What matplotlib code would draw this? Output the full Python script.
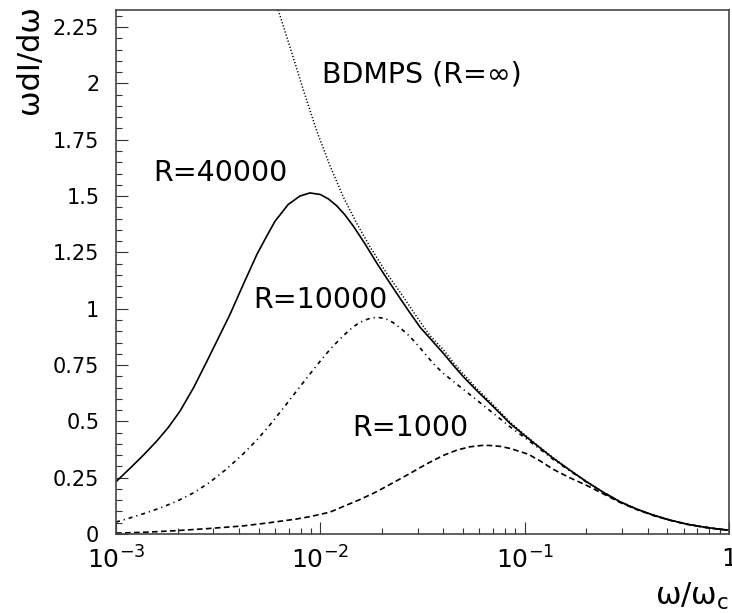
import matplotlib
matplotlib.use("Agg")
import matplotlib.pyplot as plt
import numpy as np
from matplotlib.ticker import FixedLocator, FuncFormatter, LogLocator, MultipleLocator

# positions along x are read as log10(omega/omega_c)
# R = 40000 (solid)
lx_r40000 = [-3.000, -2.931, -2.866, -2.801, -2.745, -2.687, -2.620, -2.556, -2.500,
             -2.442, -2.377, -2.311, -2.265, -2.222, -2.157, -2.100, -2.051, -2.000,
             -1.960, -1.920, -1.880, -1.838, -1.780, -1.724, -1.675, -1.626, -1.570,
             -1.512, -1.455, -1.398, -1.350, -1.300, -1.235, -1.170, -1.120, -1.072,
             -1.000, -0.930, -0.860, -0.780, -0.697, -0.615, -0.533, -0.450, -0.370,
             -0.290, -0.207, -0.125, -0.044, 0.000]
y_r40000 = [0.232, 0.292, 0.350, 0.412, 0.472, 0.545, 0.650, 0.765, 0.868,
            0.975, 1.108, 1.240, 1.318, 1.388, 1.463, 1.500, 1.514, 1.507,
            1.487, 1.457, 1.417, 1.366, 1.286, 1.203, 1.135, 1.068, 0.993,
            0.918, 0.860, 0.802, 0.750, 0.698, 0.637, 0.580, 0.535, 0.491,
            0.437, 0.386, 0.336, 0.284, 0.232, 0.185, 0.143, 0.110, 0.084,
            0.062, 0.044, 0.031, 0.021, 0.017]

# R = 10000 (dash-dot)
lx_r10000 = [-3.000, -2.933, -2.866, -2.785, -2.703, -2.620, -2.540, -2.460, -2.377,
             -2.310, -2.246, -2.180, -2.116, -2.051, -2.000, -1.950, -1.888, -1.845,
             -1.806, -1.765, -1.724, -1.683, -1.643, -1.600, -1.561, -1.520, -1.479,
             -1.440, -1.398, -1.317, -1.235, -1.154, -1.072, -1.000, -0.930, -0.860,
             -0.780, -0.697, -0.615, -0.533, -0.450, -0.370, -0.290, -0.207, -0.125,
             -0.044, 0.000]
y_r10000 = [0.053, 0.071, 0.090, 0.115, 0.145, 0.183, 0.230, 0.288, 0.356,
            0.418, 0.485, 0.560, 0.635, 0.710, 0.768, 0.822, 0.880, 0.915,
            0.940, 0.955, 0.962, 0.957, 0.938, 0.908, 0.876, 0.835, 0.790,
            0.750, 0.713, 0.654, 0.595, 0.536, 0.476, 0.428, 0.380, 0.331,
            0.281, 0.230, 0.184, 0.142, 0.109, 0.083, 0.062, 0.044, 0.031,
            0.021, 0.017]

# R = 1000 (dashed)
lx_r1000 = [-3.000, -2.850, -2.703, -2.550, -2.377, -2.250, -2.120, -2.051, -1.953,
            -1.888, -1.806, -1.724, -1.643, -1.561, -1.480, -1.398, -1.330, -1.268,
            -1.210, -1.170, -1.120, -1.072, -1.023, -0.982, -0.920, -0.860, -0.780,
            -0.697, -0.615, -0.533, -0.450, -0.370, -0.290, -0.207, -0.125, -0.044,
            0.000]
y_r1000 = [0.004, 0.008, 0.015, 0.024, 0.036, 0.050, 0.066, 0.077, 0.097,
           0.122, 0.153, 0.188, 0.228, 0.269, 0.311, 0.349, 0.373, 0.387,
           0.393, 0.393, 0.389, 0.380, 0.366, 0.354, 0.322, 0.287, 0.250,
           0.216, 0.178, 0.140, 0.108, 0.082, 0.061, 0.043, 0.030, 0.021,
           0.017]

# BDMPS, R = infinity (dotted)
lx_bdmps = [-2.206, -2.149, -2.083, -2.018, -1.953, -1.888, -1.822, -1.757, -1.675,
            -1.594, -1.529, -1.463, -1.398, -1.350, -1.300, -1.235, -1.170, -1.120,
            -1.072, -1.000, -0.930, -0.860, -0.780, -0.697, -0.615, -0.533, -0.450,
            -0.370, -0.290, -0.207, -0.125, -0.044, 0.000]
y_bdmps = [2.326, 2.163, 1.971, 1.790, 1.635, 1.497, 1.379, 1.275, 1.157,
           1.053, 0.965, 0.880, 0.818, 0.762, 0.710, 0.646, 0.588, 0.542,
           0.497, 0.440, 0.388, 0.338, 0.285, 0.233, 0.186, 0.144, 0.110,
           0.084, 0.062, 0.044, 0.031, 0.021, 0.017]

y_ticks = [0, 0.25, 0.5, 0.75, 1, 1.25, 1.5, 1.75, 2, 2.25]
x_ticks = [1e-3, 1e-2, 1e-1, 1]
x_ticklabels = [r"$10^{-3}$", r"$10^{-2}$", r"$10^{-1}$", "1"]

fig = plt.figure(figsize=(7.32, 6.13), dpi=100)
ax = fig.add_axes([116 / 732, 1 - 534 / 613, (729 - 116) / 732, (534 - 10) / 613])

ax.plot(10 ** np.array(lx_r40000), y_r40000, color="black", lw=1.2, ls="-")
ax.plot(10 ** np.array(lx_r10000), y_r10000, color="black", lw=1.2, ls=(0, (2.4, 2.4, 0.7, 2.4)))
ax.plot(10 ** np.array(lx_r1000), y_r1000, color="black", lw=1.2, ls=(0, (3.4, 2.0)))
ax.plot(10 ** np.array(lx_bdmps), y_bdmps, color="black", lw=1.1, ls=(0, (0.8, 1.3)))

ax.set_xscale("log")
ax.set_xlim(1e-3, 1)
ax.set_ylim(0, 2.326)

ax.xaxis.set_major_locator(FixedLocator(x_ticks))
ax.xaxis.set_major_formatter(FuncFormatter(lambda v, p: x_ticklabels[p] if p is not None and p < len(x_ticklabels) else ""))
ax.xaxis.set_minor_locator(LogLocator(base=10, subs=range(2, 10)))
ax.xaxis.set_minor_formatter(FuncFormatter(lambda v, p: ""))
ax.yaxis.set_major_locator(FixedLocator(y_ticks))
ax.yaxis.set_major_formatter(FuncFormatter(lambda v, p: "%g" % v))
ax.yaxis.set_minor_locator(MultipleLocator(0.05))

ax.tick_params(which="both", direction="in", top=False, right=False, width=0.8, color="#333333")
ax.tick_params(which="major", length=8.5)
ax.tick_params(which="minor", length=4.3)
ax.tick_params(axis="y", labelsize=15, pad=12)
ax.tick_params(axis="x", labelsize=18, pad=9)
for s in ax.spines.values():
    s.set_linewidth(1.2)
    s.set_color("#444444")

fs = 20.5
fig.text(153 / 732, 1 - 173 / 613, "R=40000", fontsize=fs, ha="left", va="center")
fig.text(253 / 732, 1 - 300 / 613, "R=10000", fontsize=fs, ha="left", va="center")
fig.text(352 / 732, 1 - 428 / 613, "R=1000", fontsize=fs, ha="left", va="center")
fig.text(322 / 732, 1 - 75 / 613, "BDMPS (R=∞)", fontsize=fs, ha="left", va="center")

fig.text(30 / 732, 1 - 5 / 613, "ωdI/dω", fontsize=22, rotation=90, ha="center", va="top")
fig.text(729 / 732, 1 - 596 / 613, r"ω/ω$_\mathrm{c}$", fontsize=22, ha="right", va="center")

fig.savefig("out.png", dpi=100)
